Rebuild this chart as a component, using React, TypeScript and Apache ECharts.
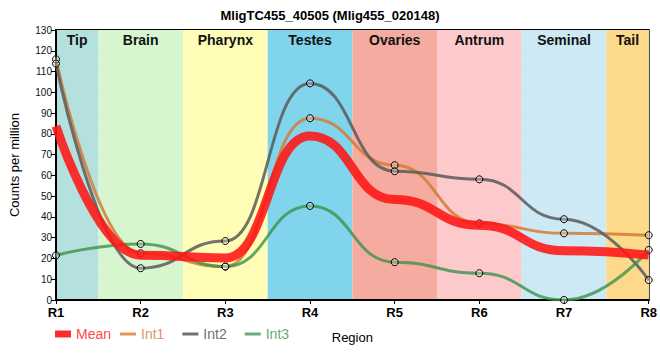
import React, { useEffect, useRef } from "react";
import * as echarts from "echarts";

const regions = ["R1", "R2", "R3", "R4", "R5", "R6", "R7", "R8"];
const meanValues = [83.7, 21.6, 20.2, 79.0, 48.4, 36.0, 23.7, 21.6];
const int1Values = [115.9, 22.5, 16.1, 87.5, 64.9, 36.9, 32.1, 31.2];
const int2Values = [113.8, 15.3, 28.4, 104.3, 62.0, 58.1, 38.9, 9.6];
const int3Values = [21.5, 27.0, 16.1, 45.3, 18.2, 12.9, 0, 24.1];
const bandNames = ["Tip", "Brain", "Pharynx", "Testes", "Ovaries", "Antrum", "Seminal", "Tail"];
const bandColors = ["#b4e1de", "#d7f5cf", "#fffdb6", "#80d4ec", "#f5ab9f", "#fdcacb", "#cdeaf4", "#fdd98b"];
const yTicks = { min: 0, max: 130, interval: 10 };

const FONT = "'Liberation Sans', Arial, sans-serif";

const seriesColors = {
  Mean: "rgba(255,20,20,0.88)",
  Int1: "rgba(210,125,55,0.85)",
  Int2: "rgba(90,90,90,0.85)",
  Int3: "rgba(60,145,75,0.8)",
};
const legendTextColors = {
  Mean: "#ff4a4a",
  Int1: "#e0965c",
  Int2: "#707070",
  Int3: "#6aab7a",
};

function toPoints(vals: number[]) {
  return vals.map((v, i) => [i, v]);
}

export default function App() {
  const ref = useRef<HTMLDivElement>(null);
  useEffect(() => {
    if (!ref.current) return;
    const chart = echarts.init(ref.current, null, { renderer: "svg" });
    const last = regions.length - 1;
    const bands = bandNames.map((name, i) => [
      {
        name,
        xAxis: Math.max(0, i - 0.5),
        itemStyle: { color: bandColors[i] },
      },
      { xAxis: Math.min(last, i + 0.5) },
    ]);
    const symbolStyle = {
      color: "rgba(255,255,255,0.25)",
      borderColor: "#000",
      borderWidth: 1,
    };
    const intSeries = (name: string, vals: number[], z: number) => ({
      name,
      type: "line",
      data: toPoints(vals),
      smooth: 0.5,
      smoothMonotone: "x",
      symbol: "circle",
      symbolSize: 7,
      showSymbol: true,
      z,
      lineStyle: { color: (seriesColors as any)[name], width: 3 },
      itemStyle: symbolStyle,
    });
    chart.setOption({
      animation: false,
      textStyle: { fontFamily: FONT },
      title: {
        text: "MligTC455_40505 (Mlig455_020148)",
        left: "center",
        top: 4,
        textStyle: { fontSize: 13, fontWeight: "bold", color: "#000", fontFamily: FONT },
      },
      grid: {
        left: 50,
        right: 10,
        top: 30,
        bottom: 60,
        show: true,
        borderColor: "#000",
        borderWidth: 2,
        backgroundColor: "transparent",
        z: 1,
      },
      legend: [
        {
          left: 50,
          top: 322,
          itemWidth: 16,
          itemHeight: 7,
          itemGap: 12,
          textStyle: { fontSize: 14, fontFamily: FONT },
          data: [
            {
              name: "Mean",
              icon: "rect",
              itemStyle: { color: "#ff2a2a", borderWidth: 0 },
              textStyle: { color: legendTextColors.Mean },
            },
          ],
        },
        {
          left: 115,
          top: 322,
          itemWidth: 16,
          itemHeight: 3,
          itemGap: 18,
          textStyle: { fontSize: 14, fontFamily: FONT },
          data: ["Int1", "Int2", "Int3"].map((n) => ({
            name: n,
            icon: "rect",
            itemStyle: { color: (legendTextColors as any)[n], borderWidth: 0 },
            textStyle: { color: (legendTextColors as any)[n] },
          })),
        },
      ],
      xAxis: {
        type: "value",
        min: 0,
        max: last,
        interval: 1,
        z: 1,
        name: "Region",
        nameLocation: "middle",
        nameGap: 31,
        nameTextStyle: { fontSize: 13, color: "#000", fontFamily: FONT },
        axisLine: { show: true, lineStyle: { color: "#000", width: 2 } },
        axisTick: { show: true, length: 4, lineStyle: { color: "#000" } },
        axisLabel: {
          margin: 6,
          fontSize: 13,
          fontWeight: "bold",
          color: "#000",
          fontFamily: FONT,
          formatter: (v: number) => regions[v] ?? "",
        },
        splitLine: { show: true, lineStyle: { color: "#c8c8c8", width: 1 } },
      },
      yAxis: {
        type: "value",
        min: yTicks.min,
        max: yTicks.max,
        interval: yTicks.interval,
        z: 1,
        name: "Counts per million",
        nameLocation: "middle",
        nameGap: 35,
        nameTextStyle: { fontSize: 13, color: "#000", fontFamily: FONT },
        axisLine: { show: true, lineStyle: { color: "#000", width: 2 } },
        axisTick: { show: true, length: 5, lineStyle: { color: "#000" } },
        axisLabel: { margin: 4, fontSize: 10, color: "#111", fontFamily: FONT },
        splitLine: { show: true, lineStyle: { color: "#c8c8c8", width: 1 } },
      },
      series: [
        {
          name: "bands",
          type: "line",
          data: [],
          z: 0,
          silent: true,
          markArea: {
            silent: true,
            label: {
              show: true,
              position: "insideTop",
              distance: 3,
              fontSize: 14,
              fontWeight: "bold",
              color: "#111",
              fontFamily: FONT,
            },
            data: bands,
          },
        },
        intSeries("Int1", int1Values, 3),
        intSeries("Int2", int2Values, 3),
        intSeries("Int3", int3Values, 3),
        {
          name: "Mean",
          type: "line",
          data: toPoints(meanValues),
          smooth: 0.5,
          smoothMonotone: "x",
          showSymbol: false,
          symbol: "none",
          z: 4,
          lineStyle: { color: seriesColors.Mean, width: 9 },
          itemStyle: { color: seriesColors.Mean },
        },
      ],
    });
    return () => chart.dispose();
  }, []);
  return (
    <div
      ref={ref}
      style={{ position: "absolute", left: 0, top: 0, width: 660, height: 360 }}
    />
  );
}
